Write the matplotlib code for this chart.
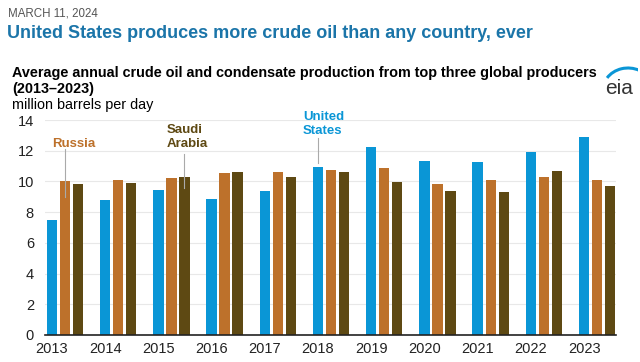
import numpy as np
import matplotlib.pyplot as plt
from matplotlib.patches import Arc

years = ['2013', '2014', '2015', '2016', '2017', '2018', '2019', '2020', '2021', '2022', '2023']
united_states = [7.49, 8.79, 9.44, 8.83, 9.36, 10.96, 12.24, 11.31, 11.27, 11.92, 12.92]
russia = [10.05, 10.09, 10.25, 10.55, 10.59, 10.74, 10.85, 9.85, 10.12, 10.31, 10.12]
saudi_arabia = [9.85, 9.92, 10.31, 10.64, 10.29, 10.59, 9.98, 9.40, 9.31, 10.66, 9.72]

plt.rcParams['font.family'] = ['Liberation Sans', 'DejaVu Sans']

c_us = '#0a96d6'
c_ru = '#bd712b'
c_sa = '#5e4913'

fig = plt.figure(figsize=(6.4, 3.62), dpi=100)
ax = fig.add_axes([45/640, 27/362, 571/640, 215/362])

x = np.arange(len(years))
w = 0.194
step = 0.245
ax.bar(x, united_states, w, color=c_us, zorder=3)
ax.bar(x + step, russia, w, color=c_ru, zorder=3)
ax.bar(x + 2*step, saudi_arabia, w, color=c_sa, zorder=3)

ax.set_xlim(-0.13, 10.6)
ax.set_ylim(0, 14)
ax.set_yticks(range(0, 15, 2))
ax.set_xticks(x)
ax.set_xticklabels(years)
ax.tick_params(axis='both', length=0, labelsize=10.5, colors='#222222')
ax.tick_params(axis='y', pad=8)
ax.tick_params(axis='x', pad=5)
ax.grid(axis='y', color='#e8e8e8', lw=0.8, zorder=0)
for s in ['top', 'right', 'left']:
    ax.spines[s].set_visible(False)
ax.spines['bottom'].set_color('#222222')
ax.spines['bottom'].set_linewidth(1.2)
ax.spines['bottom'].set_zorder(4)

# labels
ax.plot([step, step], [9.0, 12.1], color='#aaaaaa', lw=0.8, zorder=4, clip_on=False)
ax.text(0.41, 12.45, 'Russia', color=c_ru, fontsize=9.5, fontweight='bold',
        ha='center', va='center')
ax.plot([2 + 2*step, 2 + 2*step], [9.6, 11.8], color='#aaaaaa', lw=0.8, zorder=4, clip_on=False)
ax.text(2.16, 12.9, 'Saudi\nArabia', color=c_sa, fontsize=9.5, fontweight='bold',
        ha='left', va='center', linespacing=1.3)
ax.plot([5, 5], [11.2, 12.8], color='#aaaaaa', lw=0.8, zorder=4, clip_on=False)
ax.text(4.72, 13.75, 'United\nStates', color=c_us, fontsize=9.5, fontweight='bold',
        ha='left', va='center', linespacing=1.25, clip_on=False)

fig.text(8/640, 1 - 13/362, 'MARCH 11, 2024', color='#555555', fontsize=8.3, va='center')
fig.text(7/640, 1 - 34/362, 'United States produces more crude oil than any country, ever',
         color='#1b75a9', fontsize=13, fontweight='bold', va='center')
fig.text(12/640, 1 - 73/362,
         'Average annual crude oil and condensate production from top three global producers',
         color='black', fontsize=10.4, fontweight='bold', va='center')
fig.text(12/640, 1 - 89/362, '(2013\u20132023)', color='black', fontsize=10.4,
         fontweight='bold', va='center')
fig.text(12/640, 1 - 105/362, 'million barrels per day', color='black', fontsize=10.4,
         va='center')

# eia logo
fig.text(619/640, 1 - 88/362, 'eia', color='#333333', fontsize=15, ha='center', va='center')
lax = fig.add_axes([598/640, 1 - 82/362, 40/640, 20/362])
lax.set_xlim(0, 40)
lax.set_ylim(0, 20)
lax.axis('off')
lax.add_patch(Arc((30, -8), 50, 44, theta1=60, theta2=150, color=c_us, lw=2.2))

fig.savefig('out.png', dpi=100)
